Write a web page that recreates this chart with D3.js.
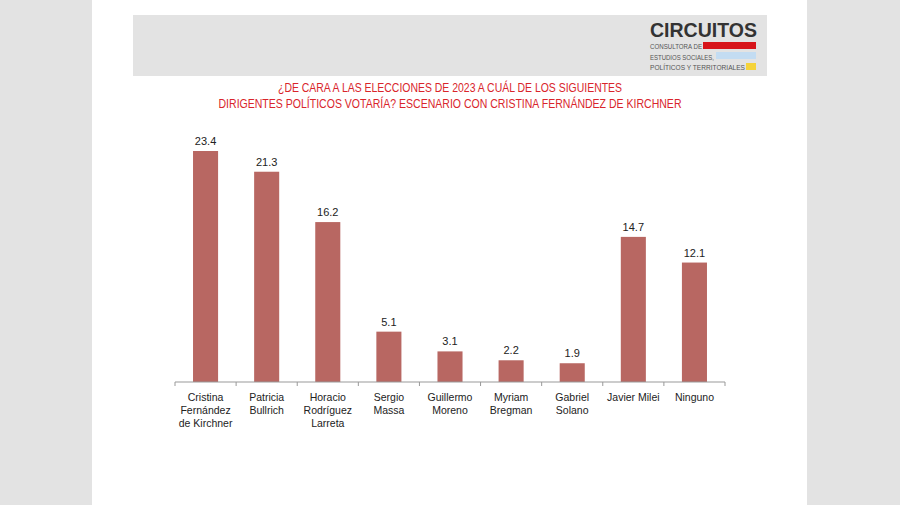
<!DOCTYPE html>
<html>
<head>
<meta charset="utf-8">
<script src="https://cdn.jsdelivr.net/npm/d3@7"></script>
<style>
  body { margin: 0; background: #fff; }
  svg { display: block; font-family: "Liberation Sans", Arial, sans-serif; }
</style>
</head>
<body>
<div id="chart"></div>
<script>
const categories = [
    ['Cristina', 'Fernández', 'de Kirchner'],
    ['Patricia', 'Bullrich'],
    ['Horacio', 'Rodríguez', 'Larreta'],
    ['Sergio', 'Massa'],
    ['Guillermo', 'Moreno'],
    ['Myriam', 'Bregman'],
    ['Gabriel', 'Solano'],
    ['Javier Milei'],
    ['Ninguno'],
];
const values = [23.4, 21.3, 16.2, 5.1, 3.1, 2.2, 1.9, 14.7, 12.1];
const titleLines = [
    '¿DE CARA A LAS ELECCIONES DE 2023 A CUÁL DE LOS SIGUIENTES',
    'DIRIGENTES POLÍTICOS VOTARÍA? ESCENARIO CON CRISTINA FERNÁNDEZ DE KIRCHNER',
];
const logoLines = ['CONSULTORA DE', 'ESTUDIOS SOCIALES,', 'POLÍTICOS Y TERRITORIALES'];

const W = 900, H = 505;
const svg = d3.select('#chart').append('svg').attr('width', W).attr('height', H);

// grey side strips
svg.append('rect').attr('x', 0).attr('y', 0).attr('width', 92).attr('height', H).attr('fill', '#e3e3e3');
svg.append('rect').attr('x', 807).attr('y', 0).attr('width', 93).attr('height', H).attr('fill', '#e3e3e3');

// header box + logo
svg.append('rect').attr('x', 133).attr('y', 15).attr('width', 634).attr('height', 61).attr('fill', '#e3e3e3');
svg.append('text').attr('x', 650).attr('y', 37).attr('font-size', 20).attr('font-weight', 'bold')
    .attr('fill', '#333').attr('textLength', 107).attr('lengthAdjust', 'spacingAndGlyphs').text('CIRCUITOS');
const logoW = [52, 64, 95];
logoLines.forEach((t, i) => {
    svg.append('text').attr('x', 650).attr('y', 49 + i * 10.5).attr('font-size', 7.5)
        .attr('fill', '#555').attr('textLength', logoW[i]).attr('lengthAdjust', 'spacingAndGlyphs').text(t);
});
svg.append('rect').attr('x', 703).attr('y', 42).attr('width', 53).attr('height', 7).attr('fill', '#d7141b');
svg.append('rect').attr('x', 716).attr('y', 52).attr('width', 40).attr('height', 7).attr('fill', '#c3dcf2');
svg.append('rect').attr('x', 746).attr('y', 63).attr('width', 10).attr('height', 7).attr('fill', '#f5d33a');

// title
const titleW = [344, 463];
titleLines.forEach((t, i) => {
    svg.append('text').attr('x', 450).attr('y', 92 + i * 16).attr('text-anchor', 'middle')
        .attr('font-size', 13.5).attr('fill', '#d9252b')
        .attr('textLength', titleW[i]).attr('lengthAdjust', 'spacingAndGlyphs').text(t);
});

// chart
const x = d3.scaleBand().domain(d3.range(values.length)).range([175, 725]).paddingInner(0.59).paddingOuter(0.295);
const y = d3.scaleLinear().domain([0, 23.4]).range([382, 151]);

svg.selectAll('rect.bar').data(values).enter().append('rect')
    .attr('class', 'bar')
    .attr('x', (d, i) => x(i))
    .attr('y', (d) => y(d))
    .attr('width', x.bandwidth())
    .attr('height', (d) => y(0) - y(d))
    .attr('fill', '#b86762');

svg.selectAll('text.val').data(values).enter().append('text')
    .attr('class', 'val')
    .attr('x', (d, i) => x(i) + x.bandwidth() / 2)
    .attr('y', (d) => y(d) - 6)
    .attr('text-anchor', 'middle')
    .attr('font-size', 11)
    .attr('fill', '#222')
    .text((d) => d3.format('.1f')(d));

// axis: line + ticks at band boundaries
const edges = d3.range(values.length + 1).map((i) => 175 + i * (550 / values.length));
svg.append('line').attr('x1', 175).attr('x2', 725).attr('y1', 382).attr('y2', 382)
    .attr('stroke', '#999').attr('stroke-width', 1);
svg.selectAll('line.tick').data(edges).enter().append('line')
    .attr('class', 'tick')
    .attr('x1', (d) => d).attr('x2', (d) => d)
    .attr('y1', 382).attr('y2', 386)
    .attr('stroke', '#999');

const labels = svg.selectAll('text.cat').data(categories).enter().append('text')
    .attr('class', 'cat')
    .attr('x', (d, i) => x(i) + x.bandwidth() / 2)
    .attr('y', 401)
    .attr('text-anchor', 'middle')
    .attr('font-size', 10.5)
    .attr('fill', '#222');
labels.selectAll('tspan').data((d, i) => d.map((t) => ({ t, i }))).enter().append('tspan')
    .attr('x', (d) => x(d.i) + x.bandwidth() / 2)
    .attr('dy', (d, j) => (j === 0 ? 0 : 13))
    .text((d) => d.t);
</script>
</body>
</html>
